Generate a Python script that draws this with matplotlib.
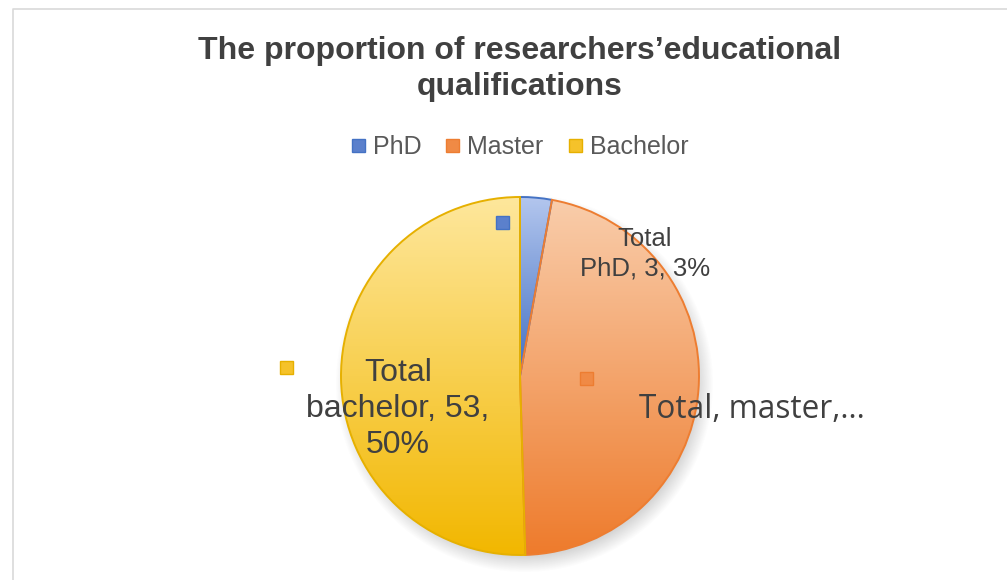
import numpy as np
import matplotlib
matplotlib.use("Agg")
import matplotlib.pyplot as plt
from matplotlib.patches import Rectangle
from matplotlib.colors import LinearSegmentedColormap

# ---- data ----
categories = ["PhD", "Master", "Bachelor"]
values = [3, 49, 53]
title = "The proportion of researchers\u2019educational\nqualifications"

# ---- style ----
grad_top = ["#b3c6ee", "#f9cdab", "#fee79c"]
grad_bot = ["#4270c3", "#ee7b2c", "#f2b700"]
edge_cols = ["#4472c4", "#ed7d31", "#e6b000"]
legend_cols = ["#5b80cc", "#f08a45", "#f5c22a"]

W, H = 1007, 580
fig = plt.figure(figsize=(W / 100, H / 100), dpi=100)
ax = fig.add_axes([0, 0, 1, 1])
ax.set_xlim(0, W)
ax.set_ylim(0, H)
ax.set_aspect("equal")
ax.axis("off")

# chart border
ax.plot([13, 13, W + 5], [-5, H - 9, H - 9], color="#d9d9d9", lw=1.2)

cx, cy, r = 520, 204, 179

# soft shadow
yy, xx = np.mgrid[0:H, 0:W]
d = np.hypot(xx - (cx + 4), (H - yy) - (cy - 7))
blur = 10.0
sh = np.clip((r + blur - d) / (2 * blur), 0, 1) * 0.35
shadow = np.zeros((H, W, 4))
shadow[..., :3] = 0.45
shadow[..., 3] = sh
ax.imshow(shadow, extent=[0, W, 0, H], origin="upper", zorder=1, interpolation="bilinear")

wedges, _ = ax.pie(values, startangle=90, counterclock=False, center=(cx, cy),
                   radius=r, frame=True,
                   wedgeprops=dict(linewidth=1.4))
ax.set_xlim(0, W)
ax.set_ylim(0, H)
ax.axis("off")

renderer = fig.canvas.get_renderer()
inv = ax.transData.inverted()
for i, w in enumerate(wedges):
    w.set_edgecolor(edge_cols[i])
    w.set_facecolor("none")
    w.set_zorder(4)
    bb = w.get_window_extent(renderer)
    (x0, y0), (x1, y1) = inv.transform([[bb.x0, bb.y0], [bb.x1, bb.y1]])
    cmap = LinearSegmentedColormap.from_list("g%d" % i, [grad_bot[i], grad_top[i]])
    grad = np.linspace(0, 1, 256).reshape(-1, 1)
    im = ax.imshow(grad, cmap=cmap, extent=[x0, x1, y0, y1], origin="lower",
                   aspect="auto", zorder=3, interpolation="bilinear")
    im.set_clip_path(w)

ax.set_xlim(0, W)
ax.set_ylim(0, H)

# title
ax.text(520, 511, title, ha="center", va="center", fontsize=23, fontweight="bold",
        family="Liberation Sans", color="#404040", linespacing=1.3)

# legend
leg_x = [352, 446, 569]
for i, c in enumerate(categories):
    ax.add_patch(Rectangle((leg_x[i], 428), 13, 13, facecolor=legend_cols[i],
                           edgecolor=edge_cols[i], lw=1, zorder=5))
    ax.text(leg_x[i] + 21, 433, c, ha="left", va="center", fontsize=18,
            family="Liberation Sans", color="#595959")

# data label markers
mk = [(502, 358), (586, 202), (286, 213)]
for i, (mx, my) in enumerate(mk):
    ax.add_patch(Rectangle((mx - 6.5, my - 6.5), 13, 13, facecolor=legend_cols[i],
                           edgecolor=edge_cols[i], lw=1, zorder=6))

tot = sum(values)
pct = [round(v / tot * 100) for v in values]

ax.text(645, 326, "Total\nPhD, %d, %d%%" % (values[0], pct[0]), ha="center", va="center",
        fontsize=18.5, family="Liberation Sans", color="#404040", linespacing=1.3, zorder=7)
ax.text(398, 171, "Total\nbachelor, %d,\n%d%%" % (values[2], pct[2]), ha="center", va="center",
        fontsize=23, family="Liberation Sans", color="#404040", linespacing=1.27, zorder=7)
ax.text(752, 171, "Total, master,...", ha="center", va="center",
        fontsize=22.7, family="Open Sans", color="#404040", zorder=7)

fig.savefig("out.png", dpi=100)
